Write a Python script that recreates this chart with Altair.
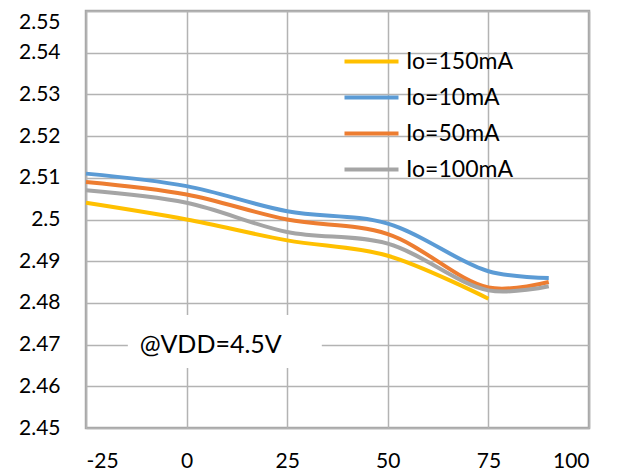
import altair as alt
import pandas as pd

# ---- data ----
temps = [-25, 0, 25, 50, 75, 90]
series_names = ["Io=150mA", "Io=10mA", "Io=50mA", "Io=100mA"]
io150 = [2.504, 2.500, 2.495, 2.4913, 2.481]
io10 = [2.511, 2.508, 2.502, 2.499, 2.4876, 2.486]
io50 = [2.509, 2.506, 2.500, 2.4965, 2.4837, 2.485]
io100 = [2.507, 2.504, 2.497, 2.4942, 2.483, 2.484]
colors = ["#FFC000", "#5B9BD5", "#ED7D31", "#A5A5A5"]

x_ticks = [-25, 0, 25, 50, 75, 100]
y_ticks = [2.45, 2.46, 2.47, 2.48, 2.49, 2.50, 2.51, 2.52, 2.53, 2.54, 2.55]

note_text = ["@VDD=4.5V"]
note_x = [6]
note_y = [2.47]
box_x = [-14.6]
box_x2 = [33.6]
box_y = [2.4644]
box_y2 = [2.4771]

# ---- build table ----
rows = []
for name, vals in zip(series_names, [io150, io10, io50, io100]):
    for t, v in zip(temps, vals):
        rows.append({"temp": t, "vout": v, "series": name})
df = pd.DataFrame(rows)

note_df = pd.DataFrame({"x": note_x, "y": note_y, "label": note_text,
                        "bx": box_x, "bx2": box_x2, "by": box_y, "by2": box_y2})

xscale = alt.Scale(domain=[-25, 100], nice=False, zero=False)
yscale = alt.Scale(domain=[2.45, 2.55], nice=False, zero=False)

axis_style = dict(title=None, ticks=False, domain=False, grid=True,
                  labelFont="Lato", labelFontSize=21, labelColor="black",
                  gridColor="#B3B3B3", gridWidth=1.5)
xaxis = alt.Axis(values=x_ticks, labelPadding=22, labelExpr="datum.value + ''",
                 **axis_style)
yaxis = alt.Axis(
    values=y_ticks, labelPadding=26, format="~g",
    labelBaseline={"condition": {"test": "datum.value > 2.545", "value": "top"},
                   "value": "middle"},
    labelOffset={"condition": {"test": "datum.value > 2.545", "value": 0},
                 "value": 0},
    **axis_style,
)

lines = alt.Chart(df).mark_line(interpolate="catmull-rom", strokeWidth=4).encode(
    x=alt.X("temp:Q", scale=xscale, axis=xaxis),
    y=alt.Y("vout:Q", scale=yscale, axis=yaxis),
    color=alt.Color(
        "series:N",
        scale=alt.Scale(domain=series_names, range=colors),
        legend=alt.Legend(
            title=None, orient="none", legendX=274, legendY=39,
            symbolType="M-3,0L3,0", symbolSize=324, symbolStrokeWidth=4,
            labelFont="Lato", labelFontSize=23, labelColor="black",
            labelOffset=23, rowPadding=12, padding=0,
        ),
    ),
)

box = alt.Chart(note_df).mark_rect(color="white").encode(
    x=alt.X("bx:Q", scale=xscale, axis=xaxis),
    x2="bx2:Q",
    y=alt.Y("by:Q", scale=yscale, axis=yaxis),
    y2="by2:Q",
)

note = alt.Chart(note_df).mark_text(font="Lato", fontSize=25, color="black",
                                    align="center", baseline="middle").encode(
    x=alt.X("x:Q", scale=xscale, axis=xaxis),
    y=alt.Y("y:Q", scale=yscale, axis=yaxis),
    text="label:N",
)

chart = alt.layer(box, note, lines).properties(
    width=503, height=417,
    background="white",
    autosize=alt.AutoSizeParams(type="none"),
    padding={"left": 78, "top": 3, "right": 20, "bottom": 50},
).configure_view(
    stroke="#A6A6A6", strokeWidth=2.5,
)

chart.save("out.html", embed_options={"renderer": "svg", "actions": False})
